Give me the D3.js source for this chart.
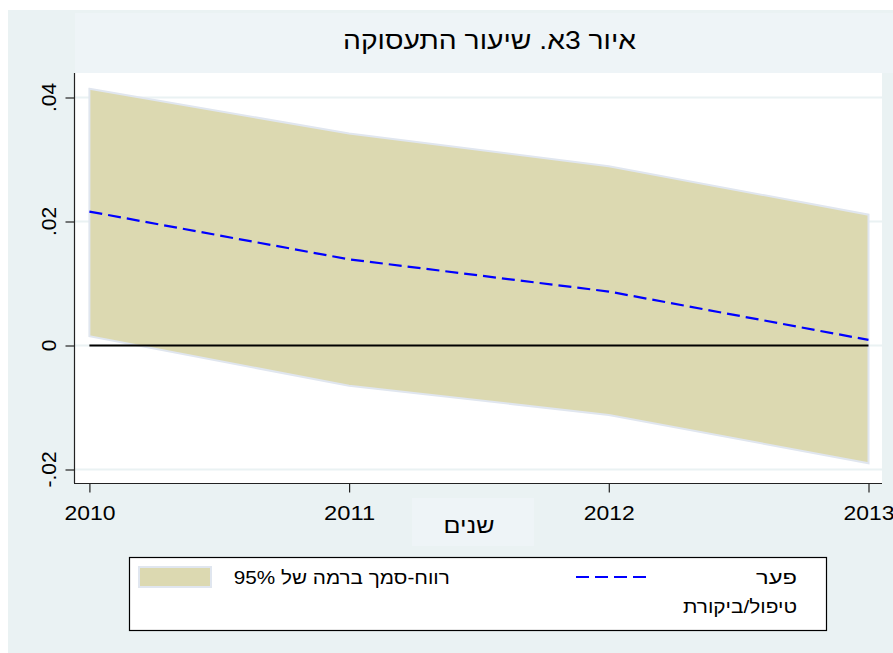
<!DOCTYPE html>
<html>
<head>
<meta charset="utf-8">
<script src="https://cdn.jsdelivr.net/npm/d3@7"></script>
<style>
  body { margin: 0; background: #fff; }
  svg { display: block; font-family: "Liberation Sans", Arial, sans-serif; }
</style>
</head>
<body>
<div id="chart"></div>
<script>
// נתונים
const years = [2010, 2011, 2012, 2013];
const gap = [0.0216, 0.0139, 0.0087, 0.0009];
const ciUpper = [0.0414, 0.0342, 0.0289, 0.0211];
const ciLower = [0.0015, -0.0065, -0.0112, -0.019];
const yTicks = [-0.02, 0, 0.02, 0.04];
const yTickLabels = ["-.02", "0", ".02", ".04"];

const width = 893, height = 653;
const plot = { left: 75, right: 882, top: 73, bottom: 483 };

const svg = d3.select("#chart").append("svg")
  .attr("width", width)
  .attr("height", height);

// רקע
svg.append("rect").attr("x", 8).attr("y", 10)
  .attr("width", width - 8).attr("height", height - 10)
  .attr("fill", "#eaf2f3");
svg.append("rect").attr("x", plot.left).attr("y", 13)
  .attr("width", width - plot.left).attr("height", plot.top - 13)
  .attr("fill", "#eef4f7");
svg.append("rect").attr("x", plot.left).attr("y", plot.top)
  .attr("width", plot.right - plot.left).attr("height", plot.bottom - plot.top)
  .attr("fill", "#fff");

const x = d3.scaleLinear().domain([2010, 2013]).range([89.4, 868.5]);
const y = d3.scaleLinear().domain([-0.02, 0.04]).range([469.5, 97.5]);

// קווי רשת
svg.append("g")
  .selectAll("line")
  .data(yTicks)
  .enter()
  .append("line")
  .attr("x1", plot.left).attr("x2", plot.right)
  .attr("y1", (d) => y(d)).attr("y2", (d) => y(d))
  .attr("stroke", "#eaf2f3")
  .attr("stroke-width", 2);

const rows = years.map((yr, i) => ({ year: yr, lo: ciLower[i], hi: ciUpper[i], est: gap[i] }));

// רווח סמך
svg.append("path")
  .datum(rows)
  .attr("d", d3.area().x((d) => x(d.year)).y0((d) => y(d.lo)).y1((d) => y(d.hi)))
  .attr("fill", "#dcd9b1")
  .attr("stroke", "#e0e6ef")
  .attr("stroke-width", 2);

// קו אפס
svg.append("line")
  .attr("x1", x(2010)).attr("x2", x(2013))
  .attr("y1", y(0)).attr("y2", y(0))
  .attr("stroke", "#000")
  .attr("stroke-width", 2);

// פער
svg.append("path")
  .datum(rows)
  .attr("d", d3.line().x((d) => x(d.year)).y((d) => y(d.est)))
  .attr("fill", "none")
  .attr("stroke", "#0000ff")
  .attr("stroke-width", 2.2)
  .attr("stroke-dasharray", "13,6");

// צירים
const yAxis = svg.append("g")
  .attr("transform", `translate(${plot.left - 0.5},0)`)
  .call(d3.axisLeft(y).tickValues(yTicks).tickSize(9).tickFormat(""));
yAxis.select(".domain").remove();
yAxis.selectAll(".tick line").attr("stroke", "#222").attr("stroke-width", 1.2);
yAxis.append("line")
  .attr("x1", 0).attr("x2", 0).attr("y1", plot.top).attr("y2", plot.bottom)
  .attr("stroke", "#222").attr("stroke-width", 1.2);

svg.append("g")
  .selectAll("text")
  .data(yTicks)
  .enter()
  .append("text")
  .attr("transform", (d) => `translate(55.5,${y(d)}) rotate(-90)`)
  .attr("text-anchor", "middle")
  .style("font-size", "21px")
  .attr("fill", "#000")
  .text((d, i) => yTickLabels[i]);

const xAxis = svg.append("g")
  .attr("transform", `translate(0,${plot.bottom + 0.5})`)
  .call(d3.axisBottom(x).tickValues(years).tickSize(9).tickFormat(d3.format("d")));
xAxis.select(".domain").remove();
xAxis.selectAll(".tick line").attr("stroke", "#222").attr("stroke-width", 1.2);
xAxis.append("line")
  .attr("x1", plot.left - 1).attr("x2", plot.right).attr("y1", 0).attr("y2", 0)
  .attr("stroke", "#222").attr("stroke-width", 1.2);
xAxis.selectAll(".tick text")
  .attr("y", 36).attr("dy", 0)
  .attr("textLength", 51)
  .attr("lengthAdjust", "spacingAndGlyphs")
  .style("font-size", "21px")
  .style("font-family", "'Liberation Sans', Arial, sans-serif")
  .attr("fill", "#000");

// טקסט מתוח לרוחב הנמדד
function label(sel, cx, cy, size, len, str) {
  return sel.append("text")
    .attr("x", cx).attr("y", cy)
    .attr("text-anchor", "middle")
    .attr("direction", "rtl")
    .attr("textLength", len)
    .attr("lengthAdjust", "spacingAndGlyphs")
    .style("font-size", size + "px")
    .attr("fill", "#000")
    .text(str);
}

// כותרת
label(svg, 489.5, 48.5, 25, 293, "איור 3א. שיעור התעסוקה");

// כותרת ציר X
svg.append("rect").attr("x", 412).attr("y", 498)
  .attr("width", 122).attr("height", 48).attr("fill", "#eef4f7");
label(svg, 469, 533, 21, 51, "שנים");

// מקרא
const legend = svg.append("g");
legend.append("rect").attr("x", 129.5).attr("y", 557.5)
  .attr("width", 697).attr("height", 73)
  .attr("fill", "#fff").attr("stroke", "#000").attr("stroke-width", 1.2);
legend.append("rect").attr("x", 139).attr("y", 567)
  .attr("width", 72).attr("height", 20)
  .attr("fill", "#dcd9b1").attr("stroke", "#e0e6ef").attr("stroke-width", 2);
label(legend, 341.8, 584, 19, 216, "רווח-סמך ברמה של 95%");
legend.append("line")
  .attr("x1", 576).attr("x2", 646).attr("y1", 577).attr("y2", 577)
  .attr("stroke", "#0000ff").attr("stroke-width", 2.2)
  .attr("stroke-dasharray", "13,6");
label(legend, 776.5, 584, 19, 41, "פער");
label(legend, 740, 613, 19, 114, "טיפול/ביקורת");
</script>
</body>
</html>
